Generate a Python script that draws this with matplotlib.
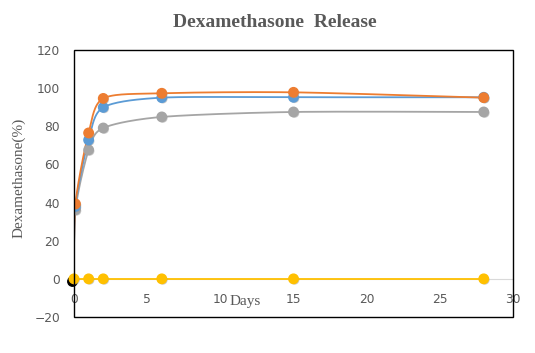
import matplotlib
matplotlib.use("Agg")
import matplotlib.pyplot as plt
import matplotlib.patheffects as pe
import matplotlib.transforms as mtransforms
from matplotlib.patches import Rectangle
import numpy as np

# release data (day, % released)
days = [0, 0.1, 1, 2, 6, 15, 28]
release_orange = [0, 39.3, 76.5, 94.6, 97.3, 97.8, 95.0]
release_blue = [0, 38.0, 72.8, 89.9, 95.0, 95.2, 95.2]
release_gray = [0, 36.2, 67.6, 79.1, 84.9, 87.5, 87.5]
release_yellow = [0, 0, 0, 0, 0, 0]
days_yellow = [0, 1, 2, 6, 15, 28]

x_ticks = [0, 5, 10, 15, 20, 25, 30]
y_ticks = [-20, 0, 20, 40, 60, 80, 100, 120]


def smooth(xs, ys, n=30):
    """Catmull-Rom curve through the points, like Excel's smoothed line."""
    pts = np.column_stack([xs, ys]).astype(float)
    pts = np.vstack([pts[0], pts, pts[-1]])
    out = []
    t = np.linspace(0, 1, n)
    for i in range(1, len(pts) - 2):
        p0, p1, p2, p3 = pts[i - 1], pts[i], pts[i + 1], pts[i + 2]
        m1 = (p2 - p0) / 2 * 0.8
        m2 = (p3 - p1) / 2 * 0.8
        h00 = 2 * t**3 - 3 * t**2 + 1
        h10 = t**3 - 2 * t**2 + t
        h01 = -2 * t**3 + 3 * t**2
        h11 = t**3 - t**2
        seg = (np.outer(h00, p1) + np.outer(h10, m1)
               + np.outer(h01, p2) + np.outer(h11, m2))
        out.append(seg)
    out = np.vstack(out)
    return out[:, 0], out[:, 1]


fig = plt.figure(figsize=(5.35, 3.53), dpi=100)
ax = fig.add_axes([0.1383, 0.102, 0.8206, 0.7564])

shadow = [pe.SimplePatchShadow(offset=(0.8, -0.8), shadow_rgbFace="#999999", alpha=0.5), pe.Normal()]

series = [(release_gray, "#A5A5A5"), (release_blue, "#5B9BD5"), (release_orange, "#ED7D31")]
for vals, col in series:
    sx, sy = smooth(days, vals)
    ax.plot(sx, sy, color=col, lw=1.3, zorder=3)
    ax.plot(days[1:], vals[1:], "o", color=col, ms=6.8, zorder=4, path_effects=shadow)

# dark markers hidden behind the yellow one at the origin
dark = mtransforms.offset_copy(ax.transData, fig=fig, x=-1.5, y=-2, units="dots")
ax.plot([days[0]], [release_orange[0]], "o", color="black", ms=6.8, zorder=4,
        transform=dark, clip_on=False)

ax.plot(days_yellow, release_yellow, color="#FFC000", lw=1.3, zorder=5)
ax.plot(days_yellow, release_yellow, "o", color="#FFC000", ms=6.8, zorder=6,
        path_effects=shadow, clip_on=False)

ax.set_xlim(0, 30)
ax.set_ylim(-20, 120)
ax.set_xticks(x_ticks)
ax.set_yticks(y_ticks)

for s in ["top", "right", "left"]:
    ax.spines[s].set_visible(False)
ax.spines["bottom"].set_position(("data", 0))
ax.spines["bottom"].set_color("#D9D9D9")
ax.add_patch(Rectangle((0, 0), 1, 1, transform=ax.transAxes, fill=False,
                       edgecolor="black", lw=1.0, zorder=10, clip_on=False))

ax.tick_params(axis="both", length=0, labelsize=8.8, labelcolor="#595959")
ax.tick_params(axis="x", pad=10)
ax.tick_params(axis="y", pad=10)

ax.text(11.7, -12, "Days", ha="center", va="center", family="Liberation Serif",
        fontsize=11, color="#595959")
ax.set_ylabel("Dexamethasone(%)", family="Liberation Serif", fontsize=11, color="#595959")
ax.yaxis.set_label_coords(-0.11, 0.522)
fig.text(0.514, 0.935, "Dexamethasone  Release", ha="center", va="center",
         family="Liberation Serif", fontweight="bold", fontsize=14, color="#595959")

fig.savefig("out.png", dpi=100)
